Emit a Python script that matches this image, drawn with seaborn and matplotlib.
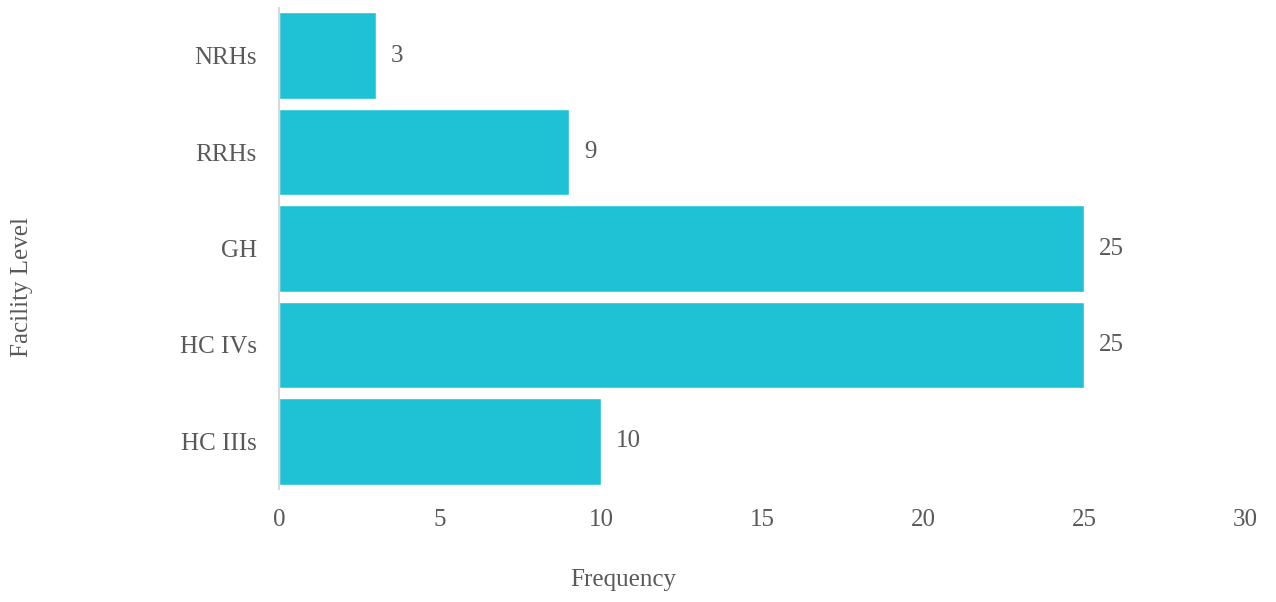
import matplotlib
matplotlib.use("Agg")
import matplotlib.pyplot as plt
import seaborn as sns
import pandas as pd

# Facility counts by level
levels = ["NRHs", "RRHs", "GH", "HC IVs", "HC IIIs"]
frequency = [3, 9, 25, 25, 10]
x_ticks = [0, 5, 10, 15, 20, 25, 30]

df = pd.DataFrame({"Facility Level": levels, "Frequency": frequency})

sns.set_theme(style="white")
plt.rcParams["font.family"] = ["Liberation Serif", "DejaVu Serif"]

text_color = "#595959"
bar_color = "#1FC1D5"
fs = 18

fig = plt.figure(figsize=(12.76, 6.02), dpi=100)
ax = fig.add_axes([0.2187, 0.1869, 0.7570, 0.8006])

sns.barplot(data=df, y="Facility Level", x="Frequency", orient="h",
            color=bar_color, saturation=1, width=0.9, ax=ax)

for patch, val in zip(ax.patches, frequency):
    y = patch.get_y() + patch.get_height() / 2
    ax.annotate(f"{val}", xy=(patch.get_width(), y), xytext=(11, 0),
                textcoords="offset points", va="center", ha="left",
                fontsize=fs, color=text_color)

ax.set_xlim(0, 30)
ax.set_ylim(4.5, -0.5)
ax.set_xticks(x_ticks)
ax.set_xticklabels([str(t) for t in x_ticks])

ax.tick_params(axis="both", length=0, labelsize=fs, colors=text_color)
ax.tick_params(axis="x", pad=14)
ax.tick_params(axis="y", pad=16)

ax.set_xlabel("Frequency", fontsize=fs, color=text_color)
ax.xaxis.set_label_coords(0.356, -0.188)
ax.xaxis.label.set_va("center")
ax.set_ylabel("Facility Level", fontsize=fs, color=text_color)
ax.yaxis.set_label_coords(-0.266, 0.42)
ax.yaxis.label.set_va("center")

for side in ["top", "right", "bottom"]:
    ax.spines[side].set_visible(False)
ax.spines["left"].set_color("#D9D9D9")
ax.spines["left"].set_linewidth(1.5)

fig.savefig("out.png", dpi=100)
